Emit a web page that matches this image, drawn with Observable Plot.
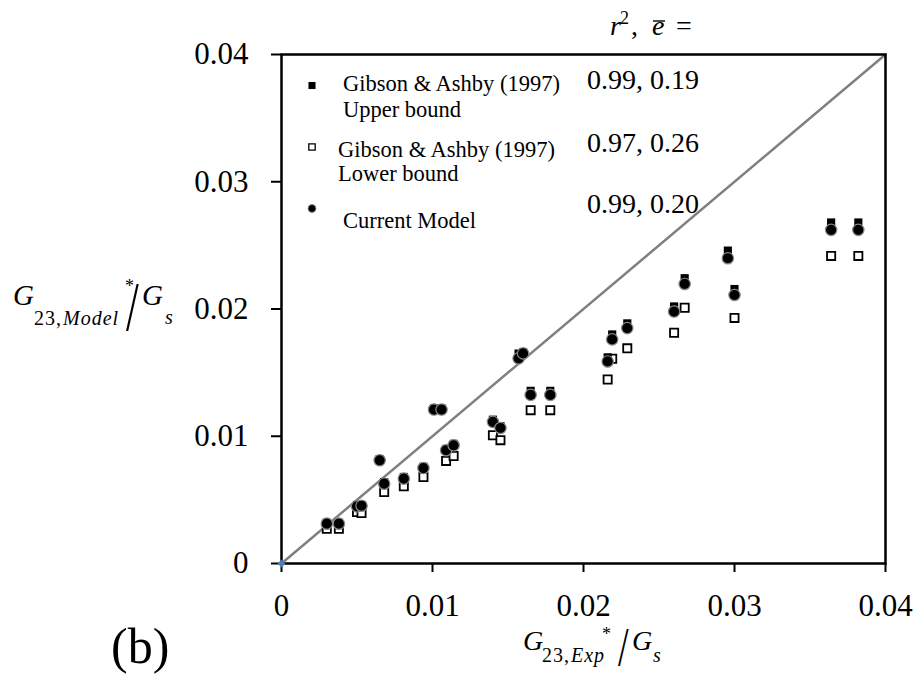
<!DOCTYPE html>
<html>
<head>
<meta charset="utf-8">
<script src="https://cdn.jsdelivr.net/npm/d3@7"></script>
<script src="https://cdn.jsdelivr.net/npm/@observablehq/plot@0.6"></script>
<style>
  html, body { margin: 0; padding: 0; background: white; }
  #chart { width: 918px; height: 675px; }
</style>
</head>
<body>
<div id="chart"></div>
<script>
// Experimental G23*/Gs (x axis)
const expValues = [0.0030, 0.0038, 0.0050, 0.0053, 0.0065, 0.0068, 0.0081, 0.0094, 0.0101, 0.0106,
                   0.0109, 0.0114, 0.0140, 0.0145, 0.0157, 0.0160, 0.0165, 0.0178, 0.0216, 0.0219,
                   0.0229, 0.0260, 0.0267, 0.02956, 0.0300, 0.0364, 0.0382];
// Gibson & Ashby (1997) upper bound
const upperBound = [0.0032, 0.0032, 0.0046, 0.0046, 0.0082, 0.0064, 0.0068, 0.0076, 0.0122, 0.0122,
                    0.0090, 0.0094, 0.0113, 0.0108, 0.0165, 0.0166, 0.01357, 0.01357, 0.0162, 0.0180,
                    0.01887, 0.0202, 0.02242, 0.02459, 0.02157, 0.0268, 0.0268];
// Gibson & Ashby (1997) lower bound (null = hidden behind other markers)
const lowerBound = [0.00273, 0.00273, 0.00404, 0.00396, null, 0.00562, 0.00606, 0.0068, null, null,
                    0.00806, 0.00845, 0.01008, 0.00969, null, null, 0.01205, 0.01205, 0.01446, 0.01609,
                    0.01691, 0.01813, 0.0201, null, 0.0193, 0.02417, 0.02417];
// Current model
const currentModel = [0.00313, 0.00313, 0.00449, 0.00454, 0.00811, 0.00627, 0.00667, 0.0075, 0.0121, 0.0121,
                      0.0089, 0.00929, 0.01113, 0.01065, 0.01612, 0.01651, 0.01325, 0.01325, 0.01588, 0.01761,
                      0.0185, 0.0198, 0.02197, 0.02399, 0.0211, 0.02622, 0.02622];

const xTicks = [0, 0.01, 0.02, 0.03, 0.04];
const xTickLabels = ["0", "0.01", "0.02", "0.03", "0.04"];
const yTicks = [0, 0.01, 0.02, 0.03, 0.04];
const yTickLabels = ["0", "0.01", "0.02", "0.03", "0.04"];
const diagonal = [0, 0.04];
const originX = [0];
const originY = [0];

const legendNames = ["Gibson & Ashby (1997)", "Upper bound", "Gibson & Ashby (1997)", "Lower bound", "Current Model"];
const legendStats = ["0.99, 0.19", "0.97, 0.26", "0.99, 0.20"];

const rows = expValues.map((x, i) => ({x, upper: upperBound[i], lower: lowerBound[i], model: currentModel[i]}));
const font = "'Liberation Serif', 'Times New Roman', serif";

const svg = Plot.plot({
  width: 918,
  height: 675,
  marginLeft: 281,
  marginRight: 33,
  marginTop: 54,
  marginBottom: 112,
  style: {fontFamily: font, background: "white", color: "black"},
  x: {domain: [0, 0.04]},
  y: {domain: [0, 0.04]},
  marks: [
    Plot.line(diagonal, {x: d => d, y: d => d, stroke: "#808080", strokeWidth: 2.5}),
    Plot.dot(rows.filter(d => d.lower != null), {x: "x", y: "lower", symbol: "square", r: 4.6, fill: "white", stroke: "black", strokeWidth: 1.8}),
    Plot.dot(rows, {x: "x", y: "upper", symbol: "square", r: 4.6, fill: "black", stroke: "none"}),
    Plot.dot(rows, {x: "x", y: "model", r: 5.7, fill: "black", stroke: "#8a8a8a", strokeWidth: 1.2}),
    Plot.frame({stroke: "black", strokeWidth: 2.5}),
    Plot.axisX({ticks: xTicks, tickFormat: (d, i) => xTickLabels[i], tickSize: 9, tickPadding: 21, fontSize: 31, strokeWidth: 2, label: null}),
    Plot.axisY({ticks: yTicks, tickFormat: (d, i) => yTickLabels[i], tickSize: 10, tickPadding: 23, fontSize: 31, strokeWidth: 2, label: null}),
    Plot.dot(originX, {x: d => d, y: (d, i) => originY[i], symbol: "diamond2", r: 3.6, fill: "#4a7ebb", stroke: "none"}),
    // legend symbols
    Plot.dot([0], {frameAnchor: "top-left", dx: 30.5, dy: 31, symbol: "square", r: 4, fill: "black", stroke: "none"}),
    Plot.dot([0], {frameAnchor: "top-left", dx: 30.5, dy: 92.5, symbol: "square", r: 3.6, fill: "white", stroke: "black", strokeWidth: 1.3}),
    Plot.dot([0], {frameAnchor: "top-left", dx: 30.5, dy: 154, r: 3.9, fill: "black", stroke: "#8a8a8a", strokeWidth: 0.8})
  ]
});

const s = d3.select(svg);
const g = s.append("g").attr("text-anchor", "start").attr("font-family", font).attr("fill", "black");
function txt(x, y, size, str, italic, extra) {
  const t = g.append("text").attr("x", x).attr("y", y)
    .attr("text-anchor", "start").attr("font-size", size).text(str);
  if (italic) t.attr("font-style", "italic");
  if (extra) extra(t);
  return t;
}
function slash(x, y, size, sy) {
  return g.append("text").attr("transform", `translate(${x},${y}) scale(1,${sy})`)
    .attr("text-anchor", "start").attr("font-size", size).text("/");
}

// legend text
txt(343, 91, 22.5, legendNames[0]);
txt(343, 117, 22.5, legendNames[1]);
txt(338, 157, 22.5, legendNames[2]);
txt(338, 181, 22.5, legendNames[3]);
txt(343, 228, 22.5, legendNames[4]);
txt(587, 89, 28, legendStats[0]);
txt(587, 152, 28, legendStats[1]);
txt(587, 213, 28, legendStats[2]);

// r^2, e-bar =
txt(610, 35, 28, "r", true);
txt(620, 24, 18, "2");
txt(631, 35, 28, ",");
txt(652, 35, 28, "e", true);
g.append("line").attr("x1", 653).attr("x2", 665).attr("y1", 21).attr("y2", 21).attr("stroke", "black").attr("stroke-width", 1.4);
txt(676, 35, 28, "=");

// y axis label
txt(13, 305, 29, "G", true);
const ysub = txt(34, 325, 20, "", false, t => t.attr("letter-spacing", 1));
ysub.append("tspan").text("23,");
ysub.append("tspan").attr("font-style", "italic").attr("dx", 1).text("Model");
txt(125, 292, 18, "*");
slash(126, 330, 46, 1.5);
txt(142, 305, 29, "G", true);
txt(165, 324, 20, "s", true);

// x axis label
txt(523, 650, 28, "G", true);
const xsub = txt(542, 662, 20, "", false, t => t.attr("letter-spacing", 1));
xsub.append("tspan").text("23,");
xsub.append("tspan").attr("font-style", "italic").attr("dx", 1).text("Exp");
txt(602, 640, 18, "*");
slash(618, 665, 38, 1.45);
txt(632, 650, 28, "G", true);
txt(653, 662, 20, "s", true);

// panel label
txt(111, 663, 50, "(b)");

document.getElementById("chart").appendChild(svg);
</script>
</body>
</html>
